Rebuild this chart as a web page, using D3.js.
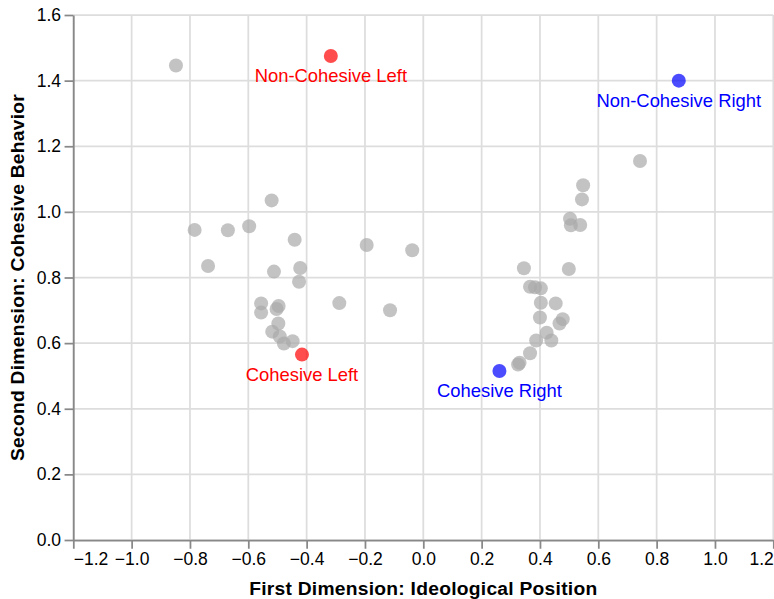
<!DOCTYPE html>
<html>
<head>
<meta charset="utf-8">
<script src="https://cdn.jsdelivr.net/npm/d3@7"></script>
<style>
  html, body { margin: 0; padding: 0; background: #fff; }
  svg { display: block; font-family: "Liberation Sans", Arial, sans-serif; }
</style>
</head>
<body>
<svg id="chart" width="774" height="599"></svg>
<script>
// ---- Data ----
const grayX = [-0.848, -0.520, -0.784, -0.670, -0.597, -0.441, -0.194, -0.738, -0.512, -0.422,
               -0.426, -0.288, -0.114, -0.038, -0.556, -0.556, -0.496, -0.503, -0.497, -0.518,
               -0.492, -0.478, -0.448, 0.743, 0.548, 0.544, 0.503, 0.506, 0.538, 0.345,
               0.499, 0.366, 0.383, 0.403, 0.403, 0.454, 0.400, 0.478, 0.467, 0.423,
               0.439, 0.387, 0.366, 0.325, 0.330];
const grayY = [1.446, 1.035, 0.945, 0.944, 0.956, 0.915, 0.899, 0.835, 0.818, 0.829,
               0.787, 0.722, 0.700, 0.883, 0.721, 0.693, 0.713, 0.704, 0.660, 0.635,
               0.620, 0.599, 0.606, 1.155, 1.081, 1.038, 0.979, 0.959, 0.960, 0.828,
               0.826, 0.772, 0.770, 0.767, 0.723, 0.721, 0.678, 0.673, 0.660, 0.632,
               0.608, 0.608, 0.569, 0.535, 0.540];
const highlightLabels = ["Non-Cohesive Left", "Cohesive Left", "Non-Cohesive Right", "Cohesive Right"];
const highlightX = [-0.317, -0.416, 0.876, 0.261];
const highlightY = [1.475, 0.565, 1.400, 0.515];
const highlightColor = ["red", "red", "blue", "blue"];
const xTicks = [-1.2, -1.0, -0.8, -0.6, -0.4, -0.2, 0.0, 0.2, 0.4, 0.6, 0.8, 1.0, 1.2];
const yTicks = [0.0, 0.2, 0.4, 0.6, 0.8, 1.0, 1.2, 1.4, 1.6];
const xTitle = "First Dimension: Ideological Position";
const yTitle = "Second Dimension: Cohesive Behavior";

// ---- Layout ----
const s = 1.75;
const margin = { left: 73.3, top: 15, right: 0.7, bottom: 59 };
const W = 700, H = 525;
const svg = d3.select("#chart");
const g = svg.append("g").attr("transform", `translate(${margin.left},${margin.top})`);

const x = d3.scaleLinear().domain([-1.2, 1.2]).range([0, W]);
const y = d3.scaleLinear().domain([0, 1.6]).range([H, 0]);

// grid
g.append("g").selectAll("line").data(xTicks).join("line")
  .attr("x1", d => x(d)).attr("x2", d => x(d)).attr("y1", 0).attr("y2", H)
  .attr("stroke", "#ddd").attr("stroke-width", s);
g.append("g").selectAll("line").data(yTicks).join("line")
  .attr("y1", d => y(d)).attr("y2", d => y(d)).attr("x1", 0).attr("x2", W)
  .attr("stroke", "#ddd").attr("stroke-width", s);

// axes
const fmt = d3.format(".1f");
const xAxis = g.append("g").attr("transform", `translate(0,${H})`)
  .call(d3.axisBottom(x).tickValues(xTicks).tickFormat(fmt).tickSize(5 * s).tickPadding(2 * s).tickSizeOuter(0));
const yAxis = g.append("g")
  .call(d3.axisLeft(y).tickValues(yTicks).tickFormat(fmt).tickSize(5 * s).tickPadding(2 * s).tickSizeOuter(0));
[xAxis, yAxis].forEach(a => {
  a.select(".domain").attr("stroke", "#888").attr("stroke-width", s);
  a.selectAll(".tick line").attr("stroke", "#888").attr("stroke-width", s);
  a.selectAll(".tick text").attr("fill", "#000").attr("font-size", 10 * s)
    .attr("font-family", "'Liberation Sans', Arial, sans-serif");
});
const xt = xAxis.selectAll(".tick text");
xt.filter((d, i) => i === 0).attr("text-anchor", "start");
xt.filter((d, i, n) => i === n.length - 1).attr("text-anchor", "end");

// axis titles
g.append("text")
  .attr("x", W / 2).attr("y", H + 55)
  .attr("text-anchor", "middle").attr("font-weight", "bold")
  .attr("letter-spacing", 0.25)
  .attr("font-size", 11 * s).attr("fill", "#000").text(xTitle);
g.append("text")
  .attr("transform", `translate(${-margin.left + 24},${H / 2}) rotate(-90)`)
  .attr("text-anchor", "middle").attr("font-weight", "bold")
  .attr("letter-spacing", 0.25)
  .attr("font-size", 11 * s).attr("fill", "#000").text(yTitle);

// gray points
const grayPts = grayX.map((v, i) => ({ x: v, y: grayY[i] }));
g.append("g").selectAll("circle").data(grayPts).join("circle")
  .attr("cx", d => x(d.x)).attr("cy", d => y(d.y)).attr("r", 4 * s)
  .attr("fill", "darkgray").attr("fill-opacity", 0.7);

// highlighted points
const hl = highlightLabels.map((l, i) => ({ label: l, x: highlightX[i], y: highlightY[i], color: highlightColor[i] }));
g.append("g").selectAll("circle").data(hl).join("circle")
  .attr("cx", d => x(d.x)).attr("cy", d => y(d.y)).attr("r", 4 * s)
  .attr("fill", d => d.color).attr("fill-opacity", 0.7);
g.append("g").selectAll("text").data(hl).join("text")
  .attr("x", d => x(d.x)).attr("y", d => y(d.y) + 15 * s)
  .attr("text-anchor", "middle").attr("font-size", 18.4)
  .attr("fill", d => d.color).text(d => d.label);
</script>
</body>
</html>
